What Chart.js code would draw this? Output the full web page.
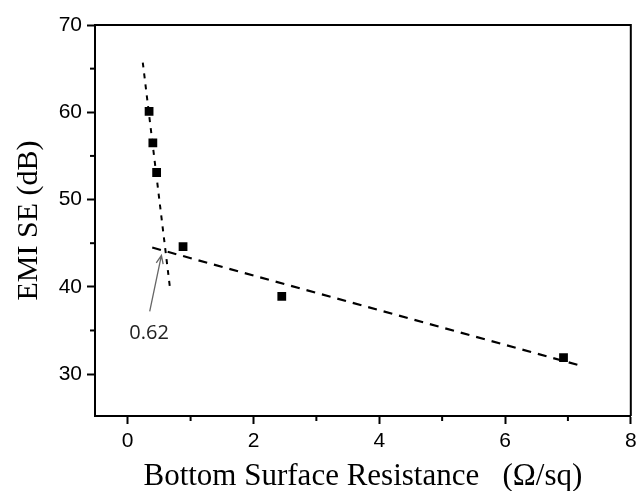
<!DOCTYPE html>
<html>
<head>
<meta charset="utf-8">
<script src="https://cdn.jsdelivr.net/npm/chart.js@4/dist/chart.umd.min.js"></script>
<style>
  html, body { margin: 0; padding: 0; background: #fff; }
  #wrap { width: 637px; height: 491px; }
</style>
</head>
<body>
<div id="wrap"><canvas id="emiChart"></canvas></div>
<script>
// measured points
const resistance = [0.34, 0.40, 0.46, 0.88, 2.45, 6.93];
const emiSE = [60.1, 56.5, 53.1, 44.6, 38.9, 31.9];

// dashed fit lines
const steepFitX = [0.24, 0.67];
const steepFitY = [65.7, 40.0];
const flatFitX = [0.39, 7.21];
const flatFitY = [44.5, 30.95];

// ticks
const xTicks = [0, 2, 4, 6, 8];
const xMinor = [1, 3, 5, 7];
const yTicks = [30, 40, 50, 60, 70];
const yMinor = [35, 45, 55, 65];

// arrow annotation
const arrowLabel = "0.62";
const arrowTip = [0.536, 43.6];
const arrowTail = [0.35, 37.2];
const labelPos = [0.34, 34.7];

const toPts = (xs, ys) => xs.map((x, i) => ({x: x, y: ys[i]}));

// frame + minor ticks + arrow
const extras = {
  id: "extras",
  afterDraw(chart) {
    const ctx = chart.ctx;
    const a = chart.chartArea;
    const xs = chart.scales.x, ys = chart.scales.y;
    ctx.save();
    ctx.strokeStyle = "#000";
    ctx.lineWidth = 2;
    ctx.beginPath();
    ctx.moveTo(a.left, a.top);
    ctx.lineTo(a.right, a.top);
    ctx.lineTo(a.right, a.bottom);
    ctx.stroke();

    xMinor.forEach(v => {
      const px = xs.getPixelForValue(v);
      ctx.beginPath();
      ctx.moveTo(px, a.bottom);
      ctx.lineTo(px, a.bottom + 5);
      ctx.stroke();
    });
    yMinor.forEach(v => {
      const py = ys.getPixelForValue(v);
      ctx.beginPath();
      ctx.moveTo(a.left, py);
      ctx.lineTo(a.left - 5, py);
      ctx.stroke();
    });

    // arrow
    const tx = xs.getPixelForValue(arrowTip[0]), ty = ys.getPixelForValue(arrowTip[1]);
    const sx = xs.getPixelForValue(arrowTail[0]), sy = ys.getPixelForValue(arrowTail[1]);
    ctx.strokeStyle = "#666";
    ctx.lineWidth = 1.3;
    ctx.beginPath();
    ctx.moveTo(sx, sy);
    ctx.lineTo(tx, ty);
    const ang = Math.atan2(ty - sy, tx - sx);
    const h = 9;
    ctx.moveTo(tx - h * Math.cos(ang - 0.4), ty - h * Math.sin(ang - 0.4));
    ctx.lineTo(tx, ty);
    ctx.lineTo(tx - h * Math.cos(ang + 0.4), ty - h * Math.sin(ang + 0.4));
    ctx.stroke();

    ctx.fillStyle = "#222";
    ctx.font = "20px 'Open Sans'";
    ctx.textAlign = "center";
    ctx.textBaseline = "middle";
    ctx.fillText(arrowLabel, xs.getPixelForValue(labelPos[0]), ys.getPixelForValue(labelPos[1]));
    ctx.restore();
  }
};

new Chart(document.getElementById("emiChart"), {
  type: "scatter",
  data: {
    datasets: [
      {
        type: "line",
        data: toPts(steepFitX, steepFitY),
        borderColor: "#000",
        borderWidth: 2,
        borderDash: [5, 6],
        pointRadius: 0,
        fill: false
      },
      {
        type: "line",
        data: toPts(flatFitX, flatFitY),
        borderColor: "#000",
        borderWidth: 2.2,
        borderDash: [9, 7],
        pointRadius: 0,
        fill: false
      },
      {
        data: toPts(resistance, emiSE),
        pointStyle: "rect",
        pointRadius: 6.2,
        backgroundColor: "#000",
        borderColor: "#000",
        borderWidth: 0
      }
    ]
  },
  plugins: [extras],
  options: {
    responsive: true,
    maintainAspectRatio: false,
    animation: false,
    events: [],
    layout: { padding: { top: 25, right: 0, left: 0, bottom: 0 } },
    plugins: { legend: { display: false }, tooltip: { enabled: false } },
    scales: {
      x: {
        type: "linear",
        min: -0.52,
        max: 8,
        afterFit: s => { s.height = 75; s.paddingRight = 6; },
        afterBuildTicks: s => { s.ticks = xTicks.map(v => ({value: v})); },
        border: { color: "#000", width: 2 },
        grid: { drawOnChartArea: false, drawTicks: true, tickLength: 8, tickColor: "#000", tickWidth: 2 },
        ticks: {
          color: "#000",
          padding: 5,
          maxRotation: 0,
          font: { family: "'Liberation Sans', Arial", size: 21 }
        },
        title: {
          display: true,
          text: "Bottom Surface Resistance   (Ω/sq)",
          color: "#000",
          font: { family: "'Liberation Serif', 'Times New Roman'", size: 31 },
          padding: { top: 0, bottom: -4 }
        }
      },
      y: {
        type: "linear",
        min: 25.2,
        max: 70,
        afterFit: s => { s.width = 95; },
        afterBuildTicks: s => { s.ticks = yTicks.map(v => ({value: v})); },
        border: { color: "#000", width: 2 },
        grid: { drawOnChartArea: false, drawTicks: true, tickLength: 8, tickColor: "#000", tickWidth: 2 },
        ticks: {
          color: "#000",
          padding: 5,
          font: { family: "'Liberation Sans', Arial", size: 21 }
        },
        title: {
          display: true,
          text: "EMI SE (dB)",
          color: "#000",
          font: { family: "'Liberation Serif', 'Times New Roman'", size: 30 },
          padding: { top: 11, bottom: 0 }
        }
      }
    }
  }
});
</script>
</body>
</html>
